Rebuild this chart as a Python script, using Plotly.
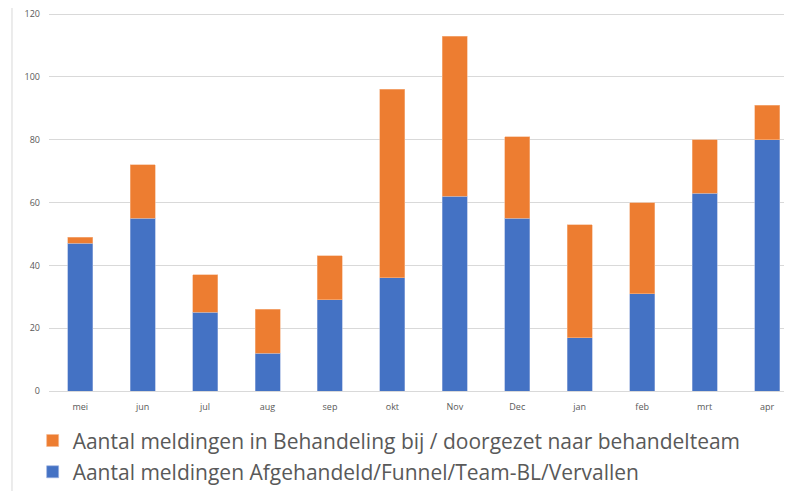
import plotly.graph_objects as go

months = ["mei", "jun", "jul", "aug", "sep", "okt", "Nov", "Dec", "jan", "feb", "mrt", "apr"]
afgehandeld = [47, 55, 25, 12, 29, 36, 62, 55, 17, 31, 63, 80]
in_behandeling = [2, 17, 12, 14, 14, 60, 51, 26, 36, 29, 17, 11]
y_ticks = [0, 20, 40, 60, 80, 100, 120]

name_blue = "Aantal meldingen Afgehandeld/Funnel/Team-BL/Vervallen"
name_orange = "Aantal meldingen in Behandeling bij / doorgezet naar behandelteam"

fig = go.Figure()
fig.add_trace(go.Bar(x=months, y=afgehandeld, name=name_blue, legendgroup="b", legendrank=2,
                     marker=dict(color="#4472C4", line=dict(color="#9DB3E0", width=0.6)),
                     width=0.4))
fig.add_trace(go.Bar(x=months, y=in_behandeling, name=name_orange, legendgroup="o", legendrank=1,
                     marker=dict(color="#ED7D31", line=dict(color="#F5B88E", width=0.6)),
                     width=0.4))

fig.update_layout(
    barmode="stack",
    width=784, height=483,
    margin=dict(l=41, r=0, t=2, b=100, autoexpand=False),
    plot_bgcolor="white", paper_bgcolor="white",
    font=dict(family="Open Sans, sans-serif", color="#595959"),
    xaxis=dict(range=[-0.5, 11.4], showgrid=False, showline=False, ticks="",
               automargin=False, tickfont=dict(size=9, color="#595959"),
               ticklabelstandoff=9),
    yaxis=dict(range=[0, 121.3], tickvals=y_ticks, ticktext=[str(v) for v in y_ticks],
               showgrid=True, gridcolor="#D9D9D9",
               gridwidth=1, zeroline=True, zerolinecolor="#D9D9D9", zerolinewidth=1,
               automargin=False, ticks="", tickfont=dict(size=9, color="#595959"),
               ticklabelstandoff=8, ticklabeloverflow="allow"),
    legend=dict(x=-0.022, y=-0.077, xanchor="left", yanchor="top",
                traceorder="grouped", tracegroupgap=1,
                font=dict(size=21, color="#595959", family="Open Sans, sans-serif"),
                itemwidth=30),
    showlegend=True,
    bargap=0.6,
)
fig.add_shape(type="line", xref="paper", yref="paper", x0=-0.0498, x1=-0.0498, y0=-0.4, y1=1.1,
              line=dict(color="#D9D9D9", width=1))

fig.write_html("out.html")
